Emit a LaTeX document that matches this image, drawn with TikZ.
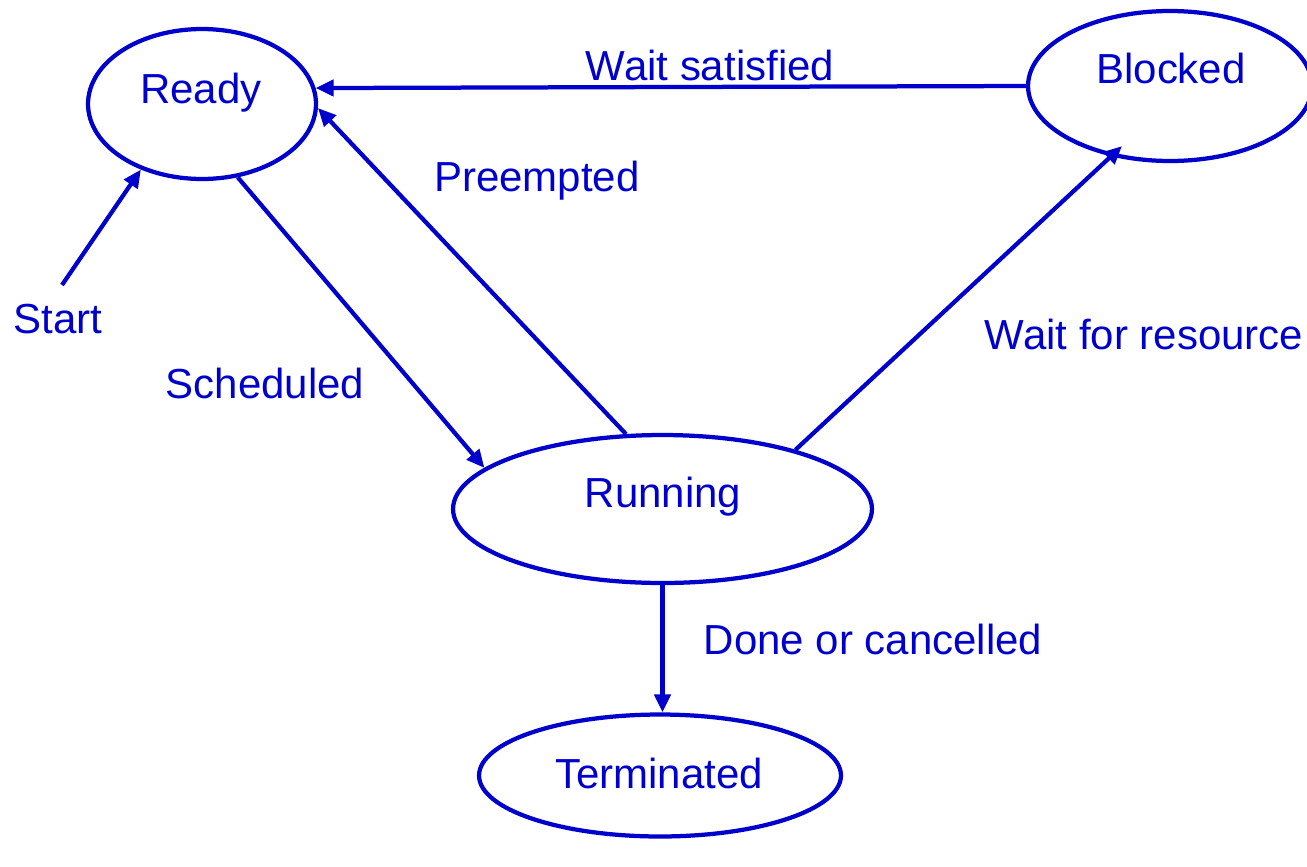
\documentclass[tikz,border=0pt]{standalone}
\usepackage{fontspec}
\setmainfont{Liberation Sans}
\usetikzlibrary{shapes.geometric,arrows.meta}
\definecolor{stateblue}{RGB}{0,0,204}
\tikzset{
  state/.style={ellipse, draw=stateblue, line width=0.085cm, inner sep=0pt},
  txt/.style={anchor=base, inner sep=0pt, text=stateblue,
    font=\fontsize{23.9pt}{28pt}\selectfont},
  trans/.style={draw=stateblue, line width=0.085cm,
    -{Triangle[length=0.36cm, width=0.32cm]}},
}
\begin{document}
\begin{tikzpicture}[x=0.02cm, y=-0.02cm]
  \useasboundingbox (0,0) rectangle (1307,866);

  % states
  \node[state, minimum width=4.56cm, minimum height=3.0cm] (ready) at (202,104) {};
  \node[state, minimum width=5.68cm, minimum height=3.0cm] (blocked) at (1170,86) {};
  \node[state, minimum width=8.38cm, minimum height=2.96cm] (running) at (662.5,509) {};
  \node[state, minimum width=7.24cm, minimum height=2.44cm] (terminated) at (660,775.5) {};

  % state names
  \node[txt] (ready-name) at (201,103) {Ready};
  \node[txt] (blocked-name) at (1171,83) {Blocked};
  \node[txt] (running-name) at (663,507) {Running};
  \node[txt] (terminated-name) at (659,788) {Terminated};

  % transitions
  \coordinate (start) at (62,285);
  \draw[trans] (start) -- (ready.-133.3);
  \draw[trans] (ready.-64.6) -- (running.167.3);
  \draw[trans] (running.116.9) -- (ready.-2);
  \draw[trans] (blocked.west) -- (ready.8.4);
  \draw[trans, shorten >=-0.3cm] (running.24.3) -- (blocked.-130.1);
  \draw[trans] (running.south) -- (running.south |- terminated.north);

  % transition labels
  \node[txt] (l-start) at (58,333) {Start};
  \node[txt] (l-sched) at (265,398) {Scheduled};
  \node[txt] (l-pre) at (537,191) {Preempted};
  \node[txt] (l-wsat) at (710,80) {Wait satisfied};
  \node[txt] (l-wres) at (1144,349) {Wait for resource};
  \node[txt] (l-done) at (873,654) {Done or cancelled};
\end{tikzpicture}
\end{document}
